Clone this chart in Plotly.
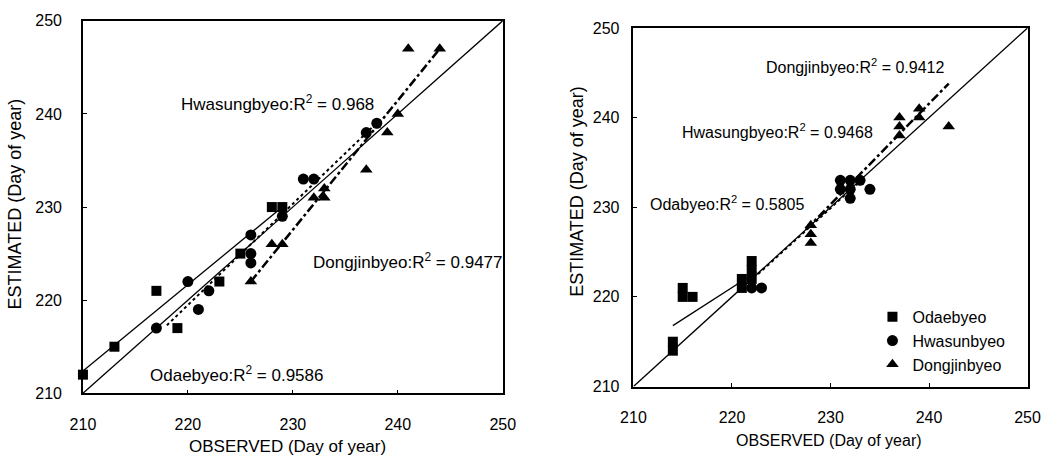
import plotly.graph_objects as go

# ---------------- Data ----------------
# Left panel
L_oda_x = [210, 213, 217, 219, 223, 225, 228, 229]
L_oda_y = [212, 215, 221, 217, 222, 225, 230, 230]
L_hwa_x = [217, 220, 221, 222, 226, 226, 226, 229, 231, 232, 237, 238]
L_hwa_y = [217, 222, 219, 221, 227, 225, 224, 229, 233, 233, 238, 239]
L_don_x = [226, 228, 229, 232, 233, 233, 237, 239, 240, 241, 244]
L_don_y = [222, 226, 226, 231, 231, 232, 234, 238, 240, 247, 247]
# regression line end points (left)
L_oda_fit_x = [210, 229]
L_oda_fit_y = [212.4, 230]
L_hwa_fit_x = [218, 237.5]
L_hwa_fit_y = [217.3, 238.5]
L_don_fit_x = [226, 244]
L_don_fit_y = [222, 247]

# Right panel
R_oda_x = [214, 214, 215, 215, 216, 221, 221, 222, 222, 222]
R_oda_y = [215, 214, 221, 220, 220, 222, 221, 224, 223, 222]
R_hwa_x = [222, 223, 231, 231, 232, 232, 232, 233, 234]
R_hwa_y = [221, 221, 233, 232, 233, 232, 231, 233, 232]
R_don_x = [228, 228, 228, 237, 237, 237, 239, 239, 242]
R_don_y = [226, 227, 228, 240, 239, 238, 241, 240, 239]
# regression line end points (right)
R_oda_fit_x = [214, 222.5]
R_oda_fit_y = [216.8, 222.8]
R_hwa_fit_x = [222.2, 233.4]
R_hwa_fit_y = [222.1, 233.3]
R_don_fit_x = [227.5, 242]
R_don_fit_y = [227.5, 243.8]

one_to_one = [210, 250]
tick_vals = [210, 220, 230, 240, 250]

legend_names = ["Odaebyeo", "Hwasunbyeo", "Dongjinbyeo"]

L_labels = ["Hwasungbyeo:R<sup>2</sup> = 0.968",
            "Dongjinbyeo:R<sup>2</sup> = 0.9477",
            "Odaebyeo:R<sup>2</sup> = 0.9586"]
L_label_x = [219.2, 231.7, 216.2]
L_label_y = [241.2, 224.2, 212.1]
R_labels = ["Dongjinbyeo:R<sup>2</sup> = 0.9412",
            "Hwasungbyeo:R<sup>2</sup> = 0.9468",
            "Odabyeo:R<sup>2</sup> = 0.5805"]
R_label_x = [223.2, 214.7, 211.5]
R_label_y = [245.7, 238.5, 230.5]

x_title = "OBSERVED (Day of year)"
y_title = "ESTIMATED (Day of year)"

# ---------------- Figure ----------------
W, H = 1063, 462
FONT = "Arial, 'Liberation Sans', sans-serif"
fig = go.Figure()

def add_panel(xa, ya, ox, oy, hx, hy, dx, dy, ofx, ofy, hfx, hfy, dfx, dfy, show_leg):
    # 1:1 line
    fig.add_trace(go.Scatter(x=one_to_one, y=one_to_one, mode="lines",
                             line=dict(color="black", width=1.3),
                             xaxis=xa, yaxis=ya, showlegend=False, hoverinfo="skip"))
    # fits
    fig.add_trace(go.Scatter(x=ofx, y=ofy, mode="lines",
                             line=dict(color="black", width=1.3),
                             xaxis=xa, yaxis=ya, showlegend=False))
    fig.add_trace(go.Scatter(x=hfx, y=hfy, mode="lines",
                             line=dict(color="black", width=2, dash="dot"),
                             xaxis=xa, yaxis=ya, showlegend=False))
    fig.add_trace(go.Scatter(x=dfx, y=dfy, mode="lines",
                             line=dict(color="black", width=2.5, dash="dashdot"),
                             xaxis=xa, yaxis=ya, showlegend=False))
    # points
    fig.add_trace(go.Scatter(x=ox, y=oy, mode="markers", name=legend_names[0],
                             marker=dict(symbol="square", size=10, color="black"),
                             cliponaxis=False,
                             xaxis=xa, yaxis=ya, showlegend=show_leg))
    fig.add_trace(go.Scatter(x=hx, y=hy, mode="markers", name=legend_names[1],
                             marker=dict(symbol="circle", size=11, color="black"),
                             cliponaxis=False,
                             xaxis=xa, yaxis=ya, showlegend=show_leg))
    fig.add_trace(go.Scatter(x=dx, y=dy, mode="markers", name=legend_names[2],
                             marker=dict(symbol="triangle-up", size=11, color="black"),
                             cliponaxis=False,
                             xaxis=xa, yaxis=ya, showlegend=show_leg))

add_panel("x", "y", L_oda_x, L_oda_y, L_hwa_x, L_hwa_y, L_don_x, L_don_y,
          L_oda_fit_x, L_oda_fit_y, L_hwa_fit_x, L_hwa_fit_y, L_don_fit_x, L_don_fit_y, False)
add_panel("x2", "y2", R_oda_x, R_oda_y, R_hwa_x, R_hwa_y, R_don_x, R_don_y,
          R_oda_fit_x, R_oda_fit_y, R_hwa_fit_x, R_hwa_fit_y, R_don_fit_x, R_don_fit_y, True)

axis_common = dict(range=[210, 250], tickvals=tick_vals, showgrid=False, zeroline=False,
                   showline=True, linecolor="black", linewidth=1.5, mirror=True,
                   ticks="inside", ticklen=4, tickcolor="black",
                   tickfont=dict(family=FONT, size=16, color="black"))

fig.update_layout(
    width=W, height=H,
    margin=dict(l=0, r=0, t=0, b=0),
    paper_bgcolor="white", plot_bgcolor="white",
    font=dict(family=FONT, color="black"),
    xaxis=dict(domain=[71.7 / W, 502 / W], anchor="y", ticklabelstandoff=16, **axis_common),
    yaxis=dict(domain=[1 - 400 / H, 1 - 13.3 / H], anchor="x", ticklabelstandoff=16, **axis_common),
    xaxis2=dict(domain=[636 / W, 1040 / W], anchor="y2", ticklabelstandoff=16, **axis_common),
    yaxis2=dict(domain=[1 - 393 / H, 1 - 20.7 / H], anchor="x2", ticklabelstandoff=9, **axis_common),
    legend=dict(x=881 / W, y=1 - 303 / H, xanchor="left", yanchor="top",
                font=dict(family=FONT, size=16, color="black"),
                bgcolor="rgba(0,0,0,0)", itemwidth=30, tracegroupgap=0),
    showlegend=True,
)

annotations = []
for t, x, y in zip(L_labels, L_label_x, L_label_y):
    annotations.append(dict(text=t, x=x, y=y, xref="x", yref="y", xanchor="left",
                            yanchor="middle", showarrow=False,
                            font=dict(family=FONT, size=17, color="black")))
for t, x, y in zip(R_labels, R_label_x, R_label_y):
    annotations.append(dict(text=t, x=x, y=y, xref="x2", yref="y2", xanchor="left",
                            yanchor="middle", showarrow=False,
                            font=dict(family=FONT, size=16, color="black")))
# axis titles
annotations += [
    dict(text=x_title, x=281 / W, y=1 - 455 / H, xref="paper", yref="paper",
         xanchor="center", yanchor="middle", showarrow=False,
         font=dict(family=FONT, size=17, color="black")),
    dict(text=y_title, x=2 / W, y=1 - 203 / H, xref="paper", yref="paper",
         xanchor="center", yanchor="middle", showarrow=False, textangle=-90,
         font=dict(family=FONT, size=18, color="black")),
    dict(text=x_title, x=836 / W, y=1 - 449 / H, xref="paper", yref="paper",
         xanchor="center", yanchor="middle", showarrow=False,
         font=dict(family=FONT, size=16, color="black")),
    dict(text=y_title, x=578 / W, y=1 - 190 / H, xref="paper", yref="paper",
         xanchor="center", yanchor="middle", showarrow=False, textangle=-90,
         font=dict(family=FONT, size=18, color="black")),
]
fig.update_layout(annotations=annotations)

fig.write_html("out.html")
